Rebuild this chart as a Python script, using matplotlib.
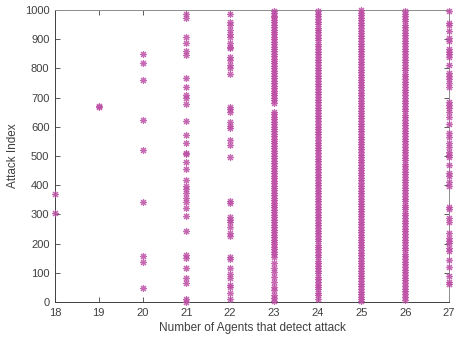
import numpy as np
import matplotlib.pyplot as plt

plt.rcParams['font.family'] = ['Liberation Sans', 'DejaVu Sans']

# attack indices detected by n agents
c18 = [370, 306]
c19 = [673, 668]
c20 = [848, 817, 760, 623, 520, 342, 158, 137, 48]
c21 = [985, 972, 909, 886, 861, 846, 768, 735, 709, 698, 677, 621, 572, 546, 511, 507,
       478, 454, 418, 397, 386, 374, 357, 343, 321, 296, 242, 161, 152, 115, 83, 64, 9, 1]
c22 = [985, 958, 949, 932, 917, 909, 886, 874, 869, 839, 829, 812, 803, 780, 669, 660,
       650, 615, 604, 595, 555, 538, 498, 347, 338, 292, 281, 275, 256, 235, 226, 155,
       146, 117, 96, 81, 58, 52, 32, 9]
c23 = [998, 990, 981, 975, 966, 958, 950, 941, 933, 925, 917, 907, 899, 892, 884, 875,
       866, 858, 851, 842, 833, 826, 817, 808, 800, 791, 783, 775, 766, 757, 749, 741,
       733, 724, 716, 708, 700, 691, 683, 652, 644, 635, 627, 618, 610, 601, 593, 585,
       576, 568, 559, 551, 543, 534, 526, 518, 509, 500, 492, 484, 475, 467, 458, 450,
       441, 433, 425, 416, 408, 399, 391, 382, 374, 366, 357, 349, 340, 332, 324, 315,
       307, 298, 290, 282, 273, 265, 257, 248, 240, 231, 223, 214, 206, 198, 189, 181,
       172, 164, 155, 134, 116, 103, 86, 68, 51, 41, 24, 14, 2]
c24 = [996, 987, 979, 968, 960, 951, 940, 932, 923, 913, 904, 896, 885, 877, 868, 857,
       849, 840, 830, 821, 813, 802, 794, 785, 775, 766, 758, 747, 739, 730, 720, 711,
       703, 692, 684, 675, 665, 656, 648, 637, 629, 620, 610, 601, 593, 582, 574, 565,
       555, 546, 538, 527, 519, 510, 500, 491, 483, 472, 464, 455, 445, 436, 428, 417,
       409, 400, 390, 381, 373, 362, 354, 345, 335, 326, 318, 307, 299, 290, 280, 271,
       263, 252, 244, 235, 225, 216, 208, 197, 189, 180, 170, 161, 153, 142, 134, 125,
       115, 106, 98, 87, 79, 70, 60, 51, 43, 32, 24, 12]
c25 = [999, 991, 982, 973, 965, 955, 947, 938, 929, 920, 911, 903, 894, 884, 876, 867,
       858, 849, 841, 831, 823, 814, 805, 796, 788, 778, 770, 761, 752, 743, 735, 725,
       717, 708, 699, 690, 682, 672, 664, 655, 646, 637, 629, 619, 611, 602, 593, 584,
       576, 566, 558, 549, 540, 531, 523, 513, 505, 496, 487, 478, 470, 460, 452, 443,
       434, 425, 417, 407, 399, 390, 381, 372, 364, 354, 346, 337, 328, 319, 311, 301,
       293, 284, 275, 266, 258, 248, 240, 231, 222, 213, 205, 195, 187, 178, 169, 160,
       152, 142, 134, 125, 116, 107, 99, 89, 81, 72, 63, 54, 46, 36, 28, 19, 10, 3]
c26 = [997, 988, 978, 970, 961, 950, 942, 933, 922, 914, 905, 894, 886, 877, 866, 858,
       849, 838, 830, 821, 810, 802, 793, 782, 774, 765, 754, 746, 737, 726, 718, 709,
       698, 690, 681, 670, 662, 653, 642, 634, 625, 614, 606, 597, 586, 578, 569, 558,
       550, 541, 530, 522, 513, 502, 494, 485, 474, 466, 457, 446, 438, 429, 418, 410,
       401, 390, 382, 373, 362, 354, 345, 334, 326, 317, 306, 298, 289, 278, 270, 261,
       250, 242, 233, 222, 214, 205, 194, 186, 177, 166, 158, 149, 138, 130, 121, 110,
       102, 93, 82, 74, 65, 54, 46, 37, 26, 18, 7]
c27 = [997, 954, 949, 928, 903, 894, 866, 857, 848, 840, 812, 783, 774, 764, 749, 737,
       684, 675, 663, 652, 635, 609, 578, 566, 543, 532, 515, 503, 495, 469, 441, 432,
       410, 398, 324, 317, 287, 275, 237, 218, 210, 201, 184, 176, 144, 121, 89, 70, 61]

agents = [18, 19, 20, 21, 22, 23, 24, 25, 26, 27]
cols = [c18, c19, c20, c21, c22, c23, c24, c25, c26, c27]

x = np.concatenate([[a] * len(c) for a, c in zip(agents, cols)])
y = np.concatenate(cols)

fig = plt.figure(figsize=(4.56, 3.39), dpi=100)
ax = fig.add_axes([0.1206, 0.109, 0.864, 0.8615])
ax.plot(x, y, linestyle='none', marker=(8, 2, 0), ms=5, mew=0.8,
        color='#BD4FA5', alpha=0.85, clip_on=False, zorder=3)

ax.set_xlim(18, 27)
ax.set_ylim(0, 1000)
ax.set_xticks(agents)
ax.set_yticks(range(0, 1001, 100))
ax.tick_params(direction='in', length=3.5, width=0.6, labelsize=8,
               colors='#404040', top=True, right=True, pad=4)
for s in ax.spines.values():
    s.set_color('#404040')
    s.set_linewidth(0.7)
ax.spines['top'].set_color('#8c8c8c')
ax.spines['right'].set_color('#8c8c8c')
ax.set_xlabel('Number of Agents that detect attack', fontsize=8.5, color='#404040', labelpad=3)
ax.set_ylabel('Attack Index', fontsize=8.5, color='#404040', labelpad=4)

fig.savefig('out.png', dpi=100)
